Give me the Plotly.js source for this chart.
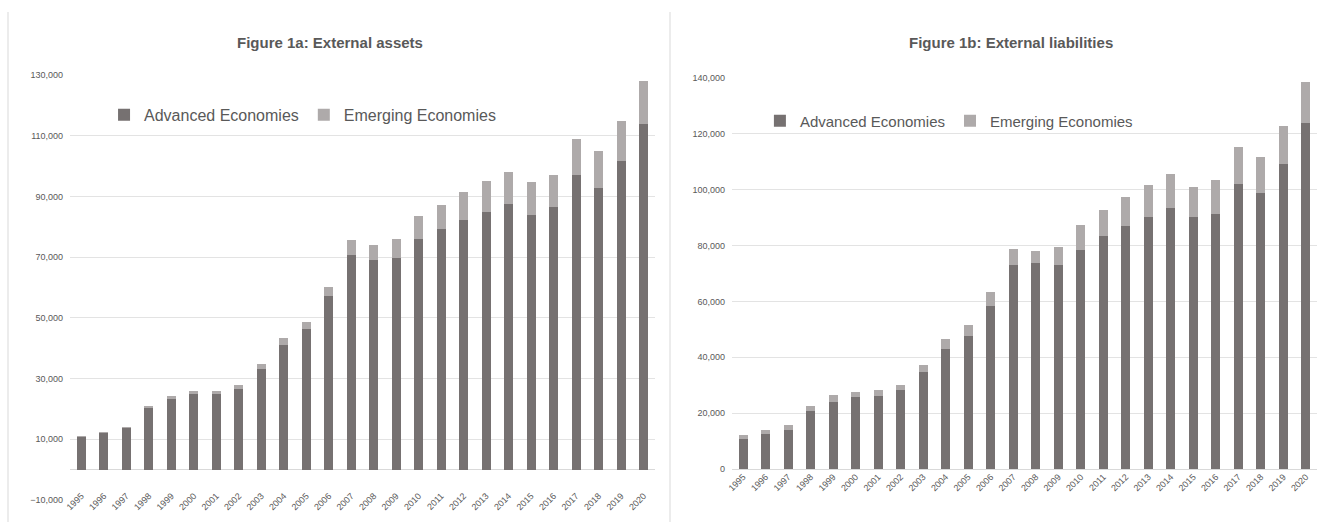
<!DOCTYPE html>
<html>
<head>
<meta charset="utf-8">
<script src="https://cdn.plot.ly/plotly-3.0.1.min.js"></script>
<style>html,body{margin:0;padding:0;background:#fff;}#chart{width:1317px;height:522px;}</style>
</head>
<body>
<div id="chart"></div>
<script>
const years = ["1995","1996","1997","1998","1999","2000","2001","2002","2003","2004","2005","2006","2007","2008","2009","2010","2011","2012","2013","2014","2015","2016","2017","2018","2019","2020"];

// Figure 1a: External assets
const assetsAdvanced = [10600,12000,13600,20200,23300,24900,24900,26600,33000,41100,46300,57200,70700,69000,69600,76000,79300,82300,85000,87500,84000,86500,97200,92800,101600,114000];
const assetsEmerging = [500,550,600,700,900,900,900,1200,1700,2200,2400,3100,4900,5000,6300,7400,7900,9100,10000,10500,10600,10700,11600,12100,13100,14100];

// Figure 1b: External liabilities
const liabAdvanced = [10800,12400,14100,20800,24100,25700,26100,28300,34600,43000,47800,58400,72900,73900,72900,78400,83600,87000,90200,93600,90200,91400,102000,98900,109300,124000];
const liabEmerging = [1200,1500,1800,1700,2400,1800,2200,1800,2500,3400,3700,4900,5900,4300,6700,8800,9300,10500,11500,12100,10900,12100,13300,12700,13500,14400];

const leftTicks = [-10000,10000,30000,50000,70000,90000,110000,130000];
const rightTicks = [0,20000,40000,60000,80000,100000,120000,140000];

const cAdv = '#767171', cEm = '#AEAAAA';
const txt = '#595959';
const fontMain = "'Liberation Sans Narrow','Liberation Sans',Arial,sans-serif";

const traces = [
  {type:'bar', x:years, y:assetsAdvanced, name:'Advanced Economies', marker:{color:cAdv}, xaxis:'x', yaxis:'y', legend:'legend'},
  {type:'bar', x:years, y:assetsEmerging, name:'Emerging Economies', marker:{color:cEm}, xaxis:'x', yaxis:'y', legend:'legend'},
  {type:'bar', x:years, y:liabAdvanced, name:'Advanced Economies', marker:{color:cAdv}, xaxis:'x2', yaxis:'y2', legend:'legend2'},
  {type:'bar', x:years, y:liabEmerging, name:'Emerging Economies', marker:{color:cEm}, xaxis:'x2', yaxis:'y2', legend:'legend2'}
];

const xCommon = {type:'category', tickangle:-45, tickfont:{size:9, color:txt, family:fontMain}, showgrid:false, zeroline:false, showline:false, ticks:'', fixedrange:true};
const yCommon = {tickfont:{size:9, color:txt, family:fontMain}, showgrid:true, gridcolor:'#e3e3e3', gridwidth:1, showline:false, ticks:'', tickformat:',', fixedrange:true};

const layout = {
  width:1317, height:522,
  margin:{l:0, r:0, t:0, b:0},
  paper_bgcolor:'#fff', plot_bgcolor:'#fff',
  barmode:'stack', bargap:0.6,
  font:{family:fontMain, color:txt},
  xaxis: Object.assign({}, xCommon, {domain:[0.0532, 0.4973], anchor:'y', ticklabelstandoff:-12}),
  yaxis: Object.assign({}, yCommon, {domain:[0.0421, 0.8563], anchor:'x', range:[-10000,130000], tickmode:'array', tickvals:leftTicks, zeroline:true, zerolinecolor:'#d9d9d9', zerolinewidth:1, ticklabelstandoff:6}),
  xaxis2: Object.assign({}, xCommon, {domain:[0.5558, 1.0], anchor:'y2'}),
  yaxis2: Object.assign({}, yCommon, {domain:[0.1015, 0.8506], anchor:'x2', range:[0,140000], tickmode:'array', tickvals:rightTicks, zeroline:true, zerolinecolor:'#d9d9d9', zerolinewidth:1, ticklabelstandoff:6}),
  legend:{orientation:'h', x:0.079, y:0.78, xanchor:'left', yanchor:'middle', font:{size:16, color:txt, family:fontMain}, bgcolor:'rgba(0,0,0,0)', traceorder:'normal', itemwidth:30},
  legend2:{orientation:'h', x:0.577, y:0.768, xanchor:'left', yanchor:'middle', font:{size:15, color:txt, family:fontMain}, bgcolor:'rgba(0,0,0,0)', traceorder:'normal', itemwidth:30},
  annotations:[
    {text:'<b>Figure 1a: External assets</b>', xref:'paper', yref:'paper', x:0.2506, y:1-42/522, xanchor:'center', yanchor:'middle', showarrow:false, font:{size:15, color:txt, family:fontMain}},
    {text:'<b>Figure 1b: External liabilities</b>', xref:'paper', yref:'paper', x:0.7677, y:1-42/522, xanchor:'center', yanchor:'middle', showarrow:false, font:{size:15, color:txt, family:fontMain}}
  ],
  shapes:[
    {type:'line', xref:'paper', yref:'paper', x0:8/1317, x1:8/1317, y0:0, y1:1-12/522, line:{color:'#d9d9d9', width:1}},
    {type:'line', xref:'paper', yref:'paper', x0:670/1317, x1:670/1317, y0:0, y1:1-12/522, line:{color:'#d9d9d9', width:1}}
  ]
};

Plotly.newPlot('chart', traces, layout, {displayModeBar:false, staticPlot:true});
</script>
</body>
</html>
